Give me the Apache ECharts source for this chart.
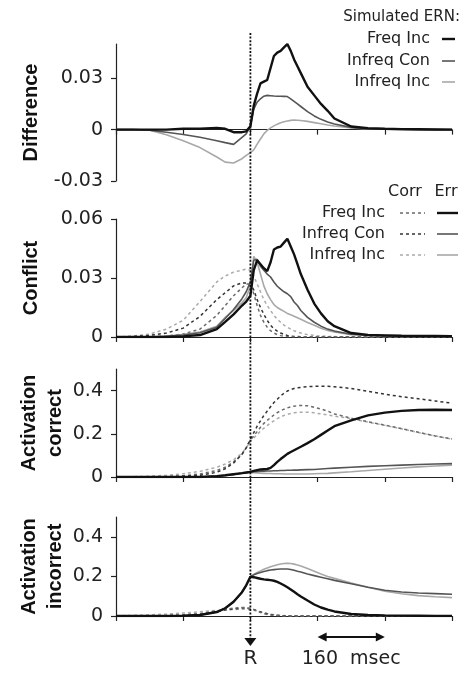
<!DOCTYPE html>
<html>
<head>
<meta charset="utf-8">
<script src="https://cdn.jsdelivr.net/npm/echarts@6/dist/echarts.min.js"></script>
<style>
html,body{margin:0;padding:0;background:#fff;}
#c{width:461px;height:674px;}
</style>
</head>
<body>
<div id="c"></div>
<script>
// time in ms relative to response (R = 0)
const T = [-320,-280,-240,-200,-160,-120,-80,-60,-40,-20,-10,0,8,16,24,32,40,48,56,64,72,80,88,96,104,112,120,136,152,168,184,200,240,280,320,360,400,440,480];
const xTicks = [-320,-160,0,160,320,480];

// Panel 1: Difference (simulated ERN)
const diffFreqInc   = [0,0,0,0,0.0005,0.0005,0.001,0.0005,-0.0015,-0.0015,-0.001,0.002,0.014,0.021,0.027,0.028,0.029,0.036,0.043,0.045,0.046,0.048,0.050,0.046,0.041,0.037,0.033,0.025,0.020,0.015,0.011,0.0065,0.0018,0.0008,0.0005,0.0003,0.0002,0.0001,0];
const diffInfreqCon = [0,0,-0.0003,-0.0015,-0.0028,-0.0045,-0.0065,-0.0076,-0.0086,-0.0045,-0.0025,0.002,0.012,0.016,0.018,0.0195,0.02,0.0198,0.0196,0.0195,0.0195,0.0194,0.0193,0.018,0.0165,0.015,0.0135,0.0105,0.008,0.006,0.0045,0.0033,0.0013,0.0005,0.0002,0.0001,0,0,0];
const diffInfreqInc = [0,0,-0.0003,-0.003,-0.0065,-0.0105,-0.016,-0.019,-0.0195,-0.017,-0.015,-0.0135,-0.0118,-0.0085,-0.0055,-0.0025,-0.0005,0.001,0.0022,0.0032,0.004,0.0046,0.005,0.0054,0.0056,0.0055,0.0053,0.0048,0.0041,0.0034,0.0027,0.0021,0.001,0.0004,0.0002,0.0001,0,0,0];

// Panel 2: Conflict
const confFreqIncErr    = [0,0,0,0,0.0003,0.001,0.004,0.0077,0.0115,0.016,0.018,0.021,0.034,0.039,0.037,0.035,0.0335,0.038,0.0445,0.0455,0.046,0.048,0.050,0.046,0.042,0.037,0.032,0.024,0.017,0.012,0.008,0.0055,0.002,0.001,0.0008,0.0006,0.0005,0.0005,0.0004];
const confInfreqConErr  = [0,0,0,0.0003,0.001,0.0022,0.005,0.0094,0.014,0.0195,0.023,0.028,0.039,0.0395,0.036,0.034,0.032,0.0305,0.028,0.0258,0.0243,0.023,0.022,0.0205,0.0178,0.016,0.0135,0.010,0.0075,0.0055,0.004,0.003,0.0014,0.001,0.0008,0.0006,0.0005,0.0005,0.0004];
const confInfreqIncErr  = [0,0,0,0.0004,0.0012,0.0025,0.0055,0.010,0.0135,0.0175,0.020,0.026,0.041,0.038,0.032,0.026,0.022,0.019,0.0165,0.015,0.014,0.013,0.012,0.0113,0.0106,0.0098,0.009,0.0074,0.006,0.0045,0.0033,0.0025,0.0012,0.0008,0.0006,0.0005,0.0005,0.0004,0.0004];
const confFreqIncCorr   = [0,0,0,0.0005,0.0015,0.004,0.011,0.016,0.021,0.025,0.027,0.027,0.022,0.016,0.011,0.0075,0.005,0.0032,0.002,0.0012,0.0007,0.0004,0.0002,0.0001,0,0,0,0,0,0,0,0,0,0,0,0,0,0,0];
const confInfreqConCorr = [0,0.0002,0.0008,0.002,0.0045,0.0105,0.019,0.0225,0.026,0.0275,0.0275,0.027,0.024,0.019,0.015,0.0115,0.0085,0.006,0.0042,0.003,0.002,0.0013,0.0008,0.0005,0.0003,0.0002,0.0001,0,0,0,0,0,0,0,0,0,0,0,0];
const confInfreqIncCorr = [0,0.0005,0.0015,0.004,0.0085,0.018,0.028,0.031,0.033,0.034,0.0345,0.034,0.031,0.027,0.023,0.019,0.016,0.0135,0.011,0.009,0.0075,0.006,0.005,0.004,0.0032,0.0025,0.002,0.0012,0.0008,0.0005,0.0003,0.0002,0,0,0,0,0,0,0];

// Panel 3: Activation correct
const acFreqIncErr    = [0,0,0,0,0,0,0.004,0.008,0.013,0.018,0.021,0.024,0.028,0.032,0.035,0.036,0.037,0.042,0.055,0.07,0.083,0.095,0.107,0.116,0.124,0.132,0.14,0.157,0.175,0.195,0.215,0.235,0.262,0.285,0.298,0.306,0.31,0.311,0.31];
const acInfreqConErr  = [0,0,0,0,0,0,0.004,0.007,0.012,0.017,0.02,0.023,0.025,0.026,0.027,0.027,0.028,0.028,0.029,0.029,0.03,0.03,0.031,0.031,0.032,0.032,0.033,0.034,0.035,0.037,0.039,0.041,0.045,0.049,0.052,0.055,0.058,0.06,0.062];
const acInfreqIncErr  = [0,0,0,0,0,0,0.004,0.007,0.012,0.017,0.019,0.021,0.02,0.019,0.018,0.017,0.016,0.016,0.015,0.015,0.015,0.014,0.014,0.014,0.014,0.014,0.014,0.014,0.015,0.016,0.017,0.019,0.024,0.03,0.036,0.042,0.047,0.051,0.055];
const acFreqIncCorr   = [0,0,0,0.002,0.006,0.014,0.03,0.045,0.07,0.105,0.135,0.17,0.19,0.21,0.23,0.248,0.262,0.275,0.287,0.298,0.307,0.314,0.32,0.325,0.328,0.33,0.331,0.33,0.323,0.315,0.305,0.292,0.272,0.256,0.24,0.224,0.207,0.19,0.176];
const acInfreqConCorr = [0,0,0,0.001,0.003,0.008,0.022,0.038,0.065,0.105,0.135,0.175,0.205,0.235,0.26,0.285,0.305,0.325,0.345,0.36,0.375,0.388,0.398,0.405,0.41,0.413,0.415,0.418,0.42,0.42,0.42,0.418,0.41,0.397,0.383,0.372,0.362,0.352,0.342];
const acInfreqIncCorr = [0,0.001,0.004,0.008,0.015,0.026,0.045,0.06,0.08,0.11,0.135,0.165,0.18,0.197,0.212,0.226,0.238,0.25,0.26,0.27,0.278,0.285,0.29,0.294,0.297,0.299,0.3,0.3,0.297,0.292,0.287,0.282,0.27,0.254,0.239,0.223,0.206,0.19,0.175];

// Panel 4: Activation incorrect
const aiFreqIncErr    = [0,0,0,0,0.001,0.005,0.02,0.039,0.072,0.12,0.155,0.198,0.196,0.192,0.188,0.185,0.183,0.181,0.178,0.172,0.164,0.155,0.145,0.134,0.122,0.11,0.099,0.078,0.058,0.043,0.032,0.023,0.01,0.005,0.003,0.002,0.001,0,0];
const aiInfreqConErr  = [0,0,0,0,0.001,0.005,0.02,0.039,0.072,0.12,0.155,0.198,0.208,0.215,0.22,0.225,0.229,0.232,0.234,0.236,0.237,0.237,0.237,0.235,0.231,0.226,0.222,0.212,0.204,0.196,0.188,0.18,0.163,0.145,0.13,0.121,0.116,0.113,0.11];
const aiInfreqIncErr  = [0,0,0,0,0.001,0.005,0.02,0.039,0.072,0.12,0.155,0.198,0.21,0.22,0.228,0.236,0.243,0.249,0.254,0.259,0.263,0.265,0.266,0.265,0.262,0.258,0.253,0.24,0.226,0.212,0.2,0.19,0.167,0.145,0.125,0.112,0.103,0.097,0.093];
const aiFreqIncCorr   = [0,0,0,0.002,0.005,0.012,0.025,0.033,0.04,0.043,0.042,0.038,0.032,0.025,0.018,0.012,0.008,0.005,0.003,0.002,0.001,0,0,0,0,0,0,0,0,0,0,0,0,0,0,0,0,0,0];
const aiInfreqConCorr = [0,0,0,0.002,0.005,0.011,0.022,0.03,0.036,0.04,0.04,0.037,0.033,0.027,0.021,0.015,0.011,0.007,0.005,0.003,0.002,0.001,0,0,0,0,0,0,0,0,0,0,0,0,0,0,0,0,0];
const aiInfreqIncCorr = [0.001,0.003,0.006,0.01,0.015,0.021,0.028,0.031,0.033,0.034,0.034,0.032,0.029,0.025,0.021,0.017,0.013,0.01,0.007,0.005,0.003,0.002,0.001,0,0,0,0,0,0,0,0,0,0,0,0,0,0,0,0];

// axis labels
const panelTitles = ['Difference','Conflict','Activation\ncorrect','Activation\nincorrect'];
const yTicks = [[-0.03,0,0.03],[0,0.03,0.06],[0,0.2,0.4],[0,0.2,0.4]];
const yRanges = [[-0.03,0.05],[0,0.06],[0,0.5],[0,0.5]];
const legendNames = ['Freq Inc','Infreq Con','Infreq Inc'];

const C_BLACK = '#111', C_DARK = '#555', C_LIGHT = '#a8a8a8';
const C_DASH = ['#6a6a6a', '#333', '#aaa'];

const grids = [
  {left:116, right:9, top:44, height:137},
  {left:116, right:9, top:219, height:118},
  {left:116, right:9, top:369, height:108},
  {left:116, right:9, top:517, height:99}
];
const nameGaps = [72, 72, 48, 48];

const FONT = 'DejaVu Sans';
function fmt(v){ if (Math.abs(v) < 1e-9) return '0'; return (Math.abs(v) < 0.1 ? v.toFixed(2) : v.toFixed(1)); }

const xAxes = grids.map((g,i)=>({
  type:'value', gridIndex:i, min:-320, max:480, interval:160,
  axisLine:{show:true, onZero:true, lineStyle:{color:'#222', width:1.2}},
  axisTick:{show:true, inside:false, length:5, lineStyle:{color:'#222', width:1.2}},
  axisLabel:{show:false}, splitLine:{show:false}
}));
const yAxes = grids.map((g,i)=>({
  type:'value', gridIndex:i, min:yRanges[i][0], max:yRanges[i][1], position:'left',
  name: panelTitles[i], nameLocation:'middle', nameGap:nameGaps[i], nameRotate:90, nameMoveOverlap:false,
  nameTextStyle:{fontFamily:'Liberation Sans', fontWeight:'bold', fontSize:20, color:'#111', lineHeight:26},
  axisLine:{show:true, onZero:false, lineStyle:{color:'#222', width:1.2}},
  axisTick:{show:true, inside:false, length:5, customValues:yTicks[i], lineStyle:{color:'#222', width:1.2}},
  axisLabel:{show:true, customValues:yTicks[i], formatter:fmt, fontFamily:FONT, fontSize:19, color:'#222', margin:13},
  splitLine:{show:false}
}));

function mk(name, idx, vals, color, width, dashed, z){
  return {
    name, type:'line', xAxisIndex:idx, yAxisIndex:idx, showSymbol:false, symbol:'none',
    data: T.map((t,k)=>[t, vals[k]]),
    lineStyle:{color, width, type: dashed ? [3,3] : 'solid'},
    z: z, silent:true
  };
}

const series = [
  mk('Infreq Inc', 0, diffInfreqInc, C_LIGHT, 1.6, false, 2),
  mk('Infreq Con', 0, diffInfreqCon, C_DARK, 1.6, false, 3),
  mk('Freq Inc', 0, diffFreqInc, C_BLACK, 2.4, false, 4),

  mk('Infreq Inc Corr', 1, confInfreqIncCorr, C_DASH[2], 1.5, true, 2),
  mk('Infreq Con Corr', 1, confInfreqConCorr, C_DASH[1], 1.5, true, 2),
  mk('Freq Inc Corr', 1, confFreqIncCorr, C_DASH[0], 1.5, true, 2),
  mk('Infreq Inc Err', 1, confInfreqIncErr, C_LIGHT, 1.6, false, 3),
  mk('Infreq Con Err', 1, confInfreqConErr, C_DARK, 1.6, false, 3),
  mk('Freq Inc Err', 1, confFreqIncErr, C_BLACK, 2.4, false, 4),

  mk('Infreq Inc Corr', 2, acInfreqIncCorr, C_DASH[2], 1.5, true, 2),
  mk('Freq Inc Corr', 2, acFreqIncCorr, C_DASH[0], 1.5, true, 2),
  mk('Infreq Con Corr', 2, acInfreqConCorr, C_DASH[1], 1.5, true, 2),
  mk('Infreq Inc Err', 2, acInfreqIncErr, C_LIGHT, 1.6, false, 3),
  mk('Infreq Con Err', 2, acInfreqConErr, C_DARK, 1.6, false, 3),
  mk('Freq Inc Err', 2, acFreqIncErr, C_BLACK, 2.4, false, 4),

  mk('Infreq Inc Corr', 3, aiInfreqIncCorr, C_DASH[2], 1.5, true, 2),
  mk('Infreq Con Corr', 3, aiInfreqConCorr, C_DASH[1], 1.5, true, 2),
  mk('Freq Inc Corr', 3, aiFreqIncCorr, C_DASH[0], 1.5, true, 2),
  mk('Infreq Inc Err', 3, aiInfreqIncErr, C_LIGHT, 1.6, false, 3),
  mk('Infreq Con Err', 3, aiInfreqConErr, C_DARK, 1.6, false, 3),
  mk('Freq Inc Err', 3, aiFreqIncErr, C_BLACK, 2.4, false, 4)
];

const chart = echarts.init(document.getElementById('c'), null, {renderer:'canvas'});
chart.setOption({
  animation:false, backgroundColor:'#fff',
  grid: grids, xAxis: xAxes, yAxis: yAxes, series: series
});

// annotations positioned through the axis scales
const xR = chart.convertToPixel({xAxisIndex:0}, 0);
const x160 = chart.convertToPixel({xAxisIndex:3}, 160);
const x320 = chart.convertToPixel({xAxisIndex:3}, 320);
const txt = (x,y,s,opt)=>({type:'text', x, y, z:50, style:Object.assign({text:s, fill:'#222', font:'16px "'+FONT+'"', textAlign:'right', textVerticalAlign:'middle'}, opt||{})});
const seg = (x1,y1,x2,y2,color,w,dash)=>({type:'line', z:50, shape:{x1,y1,x2,y2}, style:{stroke:color, lineWidth:w, lineDash:dash||null}});

const errColors = [C_BLACK, C_DARK, C_LIGHT];
const errW = [2.4, 1.6, 1.6];
const g = [];
// dotted response line
g.push(seg(xR, 33, xR, 639, '#111', 1.8, [2,1.6]));
g.push({type:'polygon', z:50, shape:{points:[[xR-6,638],[xR+6,638],[xR,646]]}, style:{fill:'#111'}});
g.push(txt(xR, 659, 'R', {textAlign:'center', font:'20px "'+FONT+'"'}));
// 160 msec scale
const ay = 637;
g.push(seg(x160+6, ay, x320-6, ay, '#111', 2));
g.push({type:'polygon', z:50, shape:{points:[[x160,ay],[x160+9,ay-4.5],[x160+9,ay+4.5]]}, style:{fill:'#111'}});
g.push({type:'polygon', z:50, shape:{points:[[x320,ay],[x320-9,ay-4.5],[x320-9,ay+4.5]]}, style:{fill:'#111'}});
g.push(txt((x160+x320)/2, 659, '160  msec', {textAlign:'center', font:'19px "'+FONT+'"'}));

// legend 1
g.push(txt(460, 17, 'Simulated ERN:', {font:'15px "'+FONT+'"'}));
const ly1 = [39, 61, 82];
legendNames.forEach((n,i)=>{
  g.push(txt(430, ly1[i], n));
  g.push(seg(442, ly1[i], 455, ly1[i], errColors[i], errW[i]));
});
// legend 2
g.push(txt(405, 192, 'Corr', {textAlign:'center'}));
g.push(txt(446, 192, 'Err', {textAlign:'center'}));
const ly2 = [213, 234, 255];
legendNames.forEach((n,i)=>{
  g.push(txt(385, ly2[i], n));
  g.push(seg(400, ly2[i], 425, ly2[i], C_DASH[i], 1.5, [3,3]));
  g.push(seg(437, ly2[i], 458, ly2[i], errColors[i], errW[i]));
});
chart.setOption({graphic: g});
</script>
</body>
</html>
